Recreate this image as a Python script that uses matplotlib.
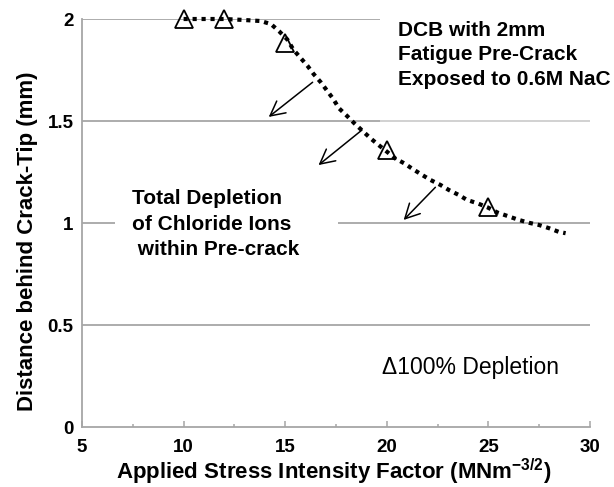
import matplotlib
matplotlib.use("Agg")
import matplotlib.pyplot as plt
from matplotlib.patches import Rectangle

plt.rcParams['font.family'] = ['Liberation Sans', 'DejaVu Sans']
plt.rcParams['mathtext.fontset'] = 'custom'
plt.rcParams['mathtext.rm'] = 'Liberation Sans'
plt.rcParams['mathtext.bf'] = 'Liberation Sans:bold'

# Data: 100% depletion points
k_points = [10, 12, 15, 20, 25]
d_points = [2.0, 2.0, 1.88, 1.36, 1.08]

# Dotted trend curve
k_curve = [10.0, 11.0, 12.0, 13.0, 13.8, 14.3, 14.7, 15.1, 15.4, 15.75, 16.1, 16.4,
           16.75, 17.05, 17.35, 17.65, 18.05, 18.4, 18.8, 19.2, 19.6, 20.0, 20.4,
           20.85, 21.3, 21.75, 22.15, 22.65, 23.05, 23.55, 23.95, 24.45, 24.95,
           25.45, 25.95, 26.5, 27.0, 27.5, 28.0, 28.45, 28.8]
d_curve = [2.0, 2.0, 2.0, 1.995, 1.99, 1.975, 1.94, 1.9, 1.85, 1.81, 1.77, 1.73,
           1.69, 1.65, 1.61, 1.562, 1.524, 1.489, 1.452, 1.415, 1.382, 1.35, 1.317,
           1.293, 1.263, 1.235, 1.211, 1.186, 1.162, 1.137, 1.113, 1.097, 1.077,
           1.051, 1.034, 1.015, 1.001, 0.99, 0.974, 0.957, 0.95]

# Arrows (start -> end)
arrow_start = [(16.35, 1.69), (18.78, 1.456), (22.39, 1.175)]
arrow_end = [(14.19, 1.52), (16.64, 1.284), (20.83, 1.015)]

xticks = [5, 10, 15, 20, 25, 30]
xminor = [7.5, 12.5, 17.5, 22.5, 27.5]
yticks = [0, 0.5, 1, 1.5, 2]
ytick_labels = ['0', '0.5', '1', '1.5', '2']

fig = plt.figure(figsize=(6.14, 4.87), dpi=100)
ax = fig.add_axes([82/614, 1-427/487, 508/614, 408/487])
ax.set_xlim(5, 30)
ax.set_ylim(0, 2)

grey = '#a6a6a6'
for y in yticks[1:]:
    ax.axhline(y, color=grey, lw=1.3, zorder=1)

# white masks behind the annotation texts
ax.add_patch(Rectangle((19.68, 1.505), 12, 0.6, facecolor='white', edgecolor='none',
                       zorder=1.5, clip_on=False))
ax.add_patch(Rectangle((19.68, 1.48), 12, 0.025, facecolor='white', edgecolor='none',
                       alpha=0.45, zorder=1.5, clip_on=False))
ax.add_patch(Rectangle((6.63, 0.88), 10.97, 0.24, facecolor='white', edgecolor='none',
                       zorder=1.5))

for s in ['top', 'right']:
    ax.spines[s].set_visible(False)
for s in ['left', 'bottom']:
    ax.spines[s].set_color(grey)
    ax.spines[s].set_linewidth(1.3)

ax.set_xticks(xticks)
ax.set_xticks(xminor, minor=True)
ax.tick_params(axis='x', which='major', direction='in', length=4, width=1.1, color=grey,
               labelsize=13.5, pad=9)
ax.tick_params(axis='x', which='minor', direction='in', length=2.5, width=1.1, color=grey)
ax.set_yticks(yticks)
ax.set_yticklabels(ytick_labels)
ax.tick_params(axis='y', length=0, labelsize=13.5, pad=6)
for lbl in ax.get_xticklabels() + ax.get_yticklabels():
    lbl.set_fontweight('bold')

ax.plot(k_curve, d_curve, color='black', lw=3, linestyle=(0, (1, 1.15)),
        dash_capstyle='butt', zorder=3, clip_on=False)
ax.plot(k_points, d_points, linestyle='none', marker='^', markersize=12.5,
        markerfacecolor='none', markeredgecolor='black', markeredgewidth=1.3,
        zorder=4, clip_on=False)

for (xs, ys), (xe, ye) in zip(arrow_start, arrow_end):
    ax.annotate('', xy=(xe, ye), xytext=(xs, ys),
                arrowprops=dict(arrowstyle='->,head_length=0.52,head_width=0.27',
                                color='black', lw=1.1, mutation_scale=20,
                                shrinkA=0, shrinkB=0), zorder=3)

ax.text(20.57, 1.824, 'DCB with 2mm\nFatigue Pre-Crack\nExposed to 0.6M NaC',
        fontsize=15, fontweight='bold', ha='left', va='center', linespacing=1.38,
        zorder=2, clip_on=False)

ax.text(7.46, 0.995, 'Total Depletion\nof Chloride Ions\n within Pre-crack',
        fontsize=15, fontweight='bold', ha='left', va='center', linespacing=1.42,
        zorder=2)

ax.text(19.78, 0.294, '\u0394100% Depletion', fontsize=16.5, ha='left', va='center')

ax.set_xlabel('Applied Stress Intensity Factor (MNm$^{\\mathbf{-3/2}}$)',
              fontsize=16, fontweight='bold')
ax.xaxis.set_label_coords(0.495, -0.072)
ax.set_ylabel('Distance behind Crack-Tip (mm)', fontsize=16, fontweight='bold')
ax.yaxis.set_label_coords(-0.087, 0.456)

fig.savefig('out.png', dpi=100)
